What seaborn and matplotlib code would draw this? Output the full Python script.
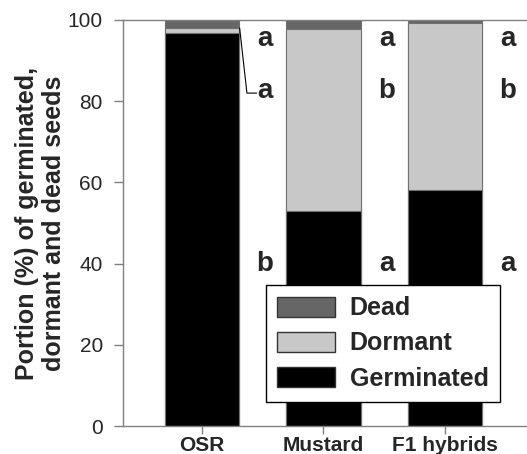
import matplotlib
matplotlib.use("Agg")
import matplotlib.pyplot as plt
import seaborn as sns
import pandas as pd
import numpy as np
from matplotlib.patches import Patch

categories = ["OSR", "Mustard", "F1 hybrids"]
germinated = [96.7, 52.9, 58.2]
dormant = [1.3, 44.9, 41.1]
dead = [2.0, 2.2, 0.7]
letters_dead = ["a", "a", "a"]
letters_dormant = ["a", "b", "b"]
letters_germ = ["b", "a", "a"]

sns.set_theme(style="white")
plt.rcParams['font.family'] = ['Liberation Sans', 'DejaVu Sans']

df = pd.DataFrame({"cat": categories,
                   "germ": germinated,
                   "germdorm": np.array(germinated) + np.array(dormant),
                   "total": np.array(germinated) + np.array(dormant) + np.array(dead)})

fig = plt.figure(figsize=(5.27, 4.54), dpi=100)
ax = fig.add_axes([123/527, 1-426/454, 1-123/527, (426-20)/454])

c_dead, c_dorm, c_germ = "#666666", "#c8c8c8", "#000000"
ec = "#707070"
for col, c in [("total", c_dead), ("germdorm", c_dorm), ("germ", c_germ)]:
    sns.barplot(data=df, x="cat", y=col, color=c, width=0.61, ax=ax,
                saturation=1, edgecolor=ec, linewidth=0.8)

ax.set_ylim(0, 100)
ax.set_xlim(-0.65, 2.675)
ax.set_yticks([0, 20, 40, 60, 80, 100])
ax.set_xlabel("")
ax.set_ylabel("Portion (%) of germinated,\ndormant and dead seeds",
              fontsize=18, fontweight="bold", linespacing=1.15, labelpad=1)
ax.spines["right"].set_visible(False)
for s in ["left", "top", "bottom"]:
    ax.spines[s].set_visible(True)
    ax.spines[s].set_color("#808080")
    ax.spines[s].set_linewidth(1.0)
ax.tick_params(axis="y", direction="out", length=6.5, width=1, color="#808080",
               labelsize=15, pad=8, left=True)
ax.tick_params(axis="x", direction="out", length=6, width=1, color="#808080",
               labelsize=15, pad=1.5, bottom=True)
for lbl in ax.get_xticklabels():
    lbl.set_fontweight("bold")

for i in range(3):
    ax.text(i + 0.52, 95.3, letters_dead[i], fontsize=20, fontweight="bold",
            ha="center", va="center")
    ax.text(i + 0.52, 82.5, letters_dormant[i], fontsize=20, fontweight="bold",
            ha="center", va="center")
    ax.text(i + 0.52, 40.0, letters_germ[i], fontsize=20, fontweight="bold",
            ha="center", va="center")

# leader line for OSR dormant
ax.plot([0.31, 0.37, 0.45], [98.0, 82.0, 82.0], color="black", lw=0.8)

handles = [Patch(facecolor=c_dead, edgecolor="#333333", label="Dead"),
           Patch(facecolor=c_dorm, edgecolor="#333333", label="Dormant"),
           Patch(facecolor=c_germ, edgecolor="#333333", label="Germinated")]
leg = fig.legend(handles=handles, loc="lower right",
                 bbox_to_anchor=(500/527, 1-402/454), frameon=True,
                 fancybox=False, edgecolor="black", framealpha=1,
                 prop={"weight": "bold", "size": 18}, borderaxespad=0,
                 handlelength=2.3, handleheight=0.85, labelspacing=0.45,
                 borderpad=0.45, handletextpad=0.6)
leg.get_frame().set_linewidth(1.0)

fig.savefig("out.png", dpi=100)
